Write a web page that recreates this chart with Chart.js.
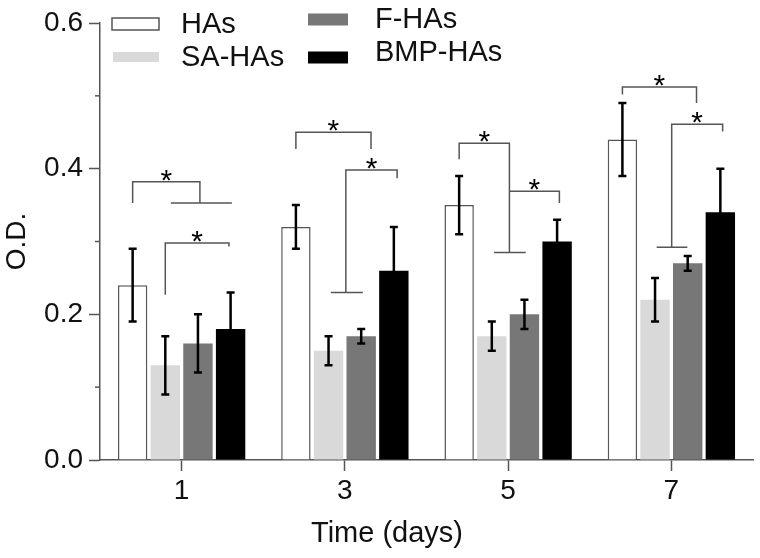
<!DOCTYPE html>
<html>
<head>
<meta charset="utf-8">
<script src="https://cdn.jsdelivr.net/npm/chart.js@4.4.1/dist/chart.umd.min.js"></script>
<style>
  html, body { margin: 0; padding: 0; background: #fff; }
  #wrap { width: 760px; height: 558px; }
</style>
</head>
<body>
<div id="wrap"><canvas id="odChart" width="760" height="558"></canvas></div>
<script>
const days = ['1', '3', '5', '7'];
const seriesNames = ['HAs', 'SA-HAs', 'F-HAs', 'BMP-HAs'];
const hasValues = [0.24, 0.32, 0.35, 0.44];
const saValues = [0.13, 0.15, 0.17, 0.22];
const fValues = [0.16, 0.17, 0.20, 0.27];
const bmpValues = [0.18, 0.26, 0.30, 0.34];
const hasErr = [0.05, 0.03, 0.04, 0.05];
const saErr = [0.04, 0.02, 0.02, 0.03];
const fErr = [0.04, 0.01, 0.02, 0.01];
const bmpErr = [0.05, 0.06, 0.03, 0.06];
const yLabelTicks = [0, 0.2, 0.4, 0.6];

// significance brackets, in bar slots (0 = HAs ... 3 = BMP-HAs) and y values
// [day, left slot, right slot, top, left leg end, right leg end, base from, base to, base y]
const brackets = [
    [0, 0, 2.06, 0.382, 0.353, 0.353, 1.17, 3.04, 0.353],
    [0, 1.0, 2.95, 0.298, 0.227, 0.293, null, null, null],
    [1, 0, 2.3, 0.45, 0.427, 0.427, null, null, null],
    [1, 1.53, 3.1, 0.398, 0.23, 0.387, 1.07, 2.05, 0.23],
    [2, 0, 1.54, 0.435, 0.413, 0.285, 1.07, 2.04, 0.285],
    [2, 1.54, 3.07, 0.369, 0.369, 0.353, null, null, null],
    [3, 0, 2.27, 0.512, 0.502, 0.49, null, null, null],
    [3, 1.51, 3.07, 0.461, 0.292, 0.451, 1.05, 1.99, 0.292]
];

const fillColors = ['#ffffff', '#d9d9d9', '#777777', '#000000'];
const axisColor = '#555555';
const fontFamily = '"Liberation Sans", Arial, Helvetica, sans-serif';

function isMajor(v) {
    return yLabelTicks.some(t => Math.abs(t - v) < 1e-6);
}

function slotX(chart, d, s) {
    const a = chart.getDatasetMeta(0).data[d];
    const b = chart.getDatasetMeta(1).data[d];
    return a.x + s * (b.x - a.x);
}

const errorBars = {
    id: 'errorBars',
    afterDatasetsDraw(chart) {
        const ctx = chart.ctx;
        const y = chart.scales.y;
        ctx.save();
        ctx.strokeStyle = '#000';
        ctx.lineWidth = 2.5;
        chart.data.datasets.forEach((ds, i) => {
            chart.getDatasetMeta(i).data.forEach((bar, j) => {
                const top = y.getPixelForValue(ds.data[j] + ds.errors[j]);
                const bot = y.getPixelForValue(ds.data[j] - ds.errors[j]);
                ctx.beginPath();
                ctx.moveTo(bar.x, top); ctx.lineTo(bar.x, bot);
                ctx.moveTo(bar.x - 4, top); ctx.lineTo(bar.x + 4, top);
                ctx.moveTo(bar.x - 4, bot); ctx.lineTo(bar.x + 4, bot);
                ctx.stroke();
            });
        });

        // brackets and stars
        brackets.forEach(b => {
            const [d, s1, s2, top, l1, l2, bf, bt, by] = b;
            const x1 = slotX(chart, d, s1), x2 = slotX(chart, d, s2);
            const yt = y.getPixelForValue(top);
            ctx.strokeStyle = axisColor;
            ctx.lineWidth = 1.5;
            ctx.beginPath();
            ctx.moveTo(x1, y.getPixelForValue(l1));
            ctx.lineTo(x1, yt);
            ctx.lineTo(x2, yt);
            ctx.lineTo(x2, y.getPixelForValue(l2));
            if (bf !== null) {
                const yb = y.getPixelForValue(by);
                ctx.moveTo(slotX(chart, d, bf), yb);
                ctx.lineTo(slotX(chart, d, bt), yb);
            }
            ctx.stroke();
            ctx.fillStyle = '#000';
            ctx.font = '30px ' + fontFamily;
            ctx.textAlign = 'center';
            ctx.textBaseline = 'alphabetic';
            ctx.fillText('*', (x1 + x2) / 2, yt - 9 + 0.57 * 30);
        });
        ctx.restore();
    }
};

const extras = {
    id: 'extras',
    afterDraw(chart) {
        const ctx = chart.ctx;
        const y = chart.scales.y;
        const x = chart.scales.x;
        ctx.save();

        // minor y ticks
        ctx.strokeStyle = axisColor;
        ctx.lineWidth = 1.5;
        y.ticks.forEach(t => {
            if (!isMajor(t.value)) {
                const py = y.getPixelForValue(t.value);
                ctx.beginPath();
                ctx.moveTo(x.left - 5, py);
                ctx.lineTo(x.left, py);
                ctx.stroke();
            }
        });

        // legend, two columns
        const items = [
            {bx: 112, bw: 47, by: 24, bh: 12, tx: 181, ty: 25},
            {bx: 113, bw: 46, by: 57, bh: 10, tx: 181, ty: 58},
            {bx: 308, bw: 40, by: 19.5, bh: 12, tx: 375, ty: 19.5},
            {bx: 308, bw: 40, by: 57.5, bh: 12, tx: 375, ty: 52.5}
        ];
        chart.data.datasets.forEach((ds, i) => {
            const it = items[i];
            ctx.fillStyle = ds.backgroundColor;
            ctx.fillRect(it.bx, it.by - it.bh / 2, it.bw, it.bh);
            if (ds.borderWidth) {
                ctx.strokeStyle = ds.borderColor;
                ctx.lineWidth = 1.5;
                ctx.strokeRect(it.bx, it.by - it.bh / 2, it.bw, it.bh);
            }
            ctx.fillStyle = '#111';
            ctx.font = '29px ' + fontFamily;
            ctx.textAlign = 'left';
            ctx.textBaseline = 'middle';
            ctx.fillText(ds.label, it.tx, it.ty);
        });

        // x axis title
        ctx.fillStyle = '#111';
        ctx.font = '29px ' + fontFamily;
        ctx.textAlign = 'center';
        ctx.textBaseline = 'middle';
        ctx.fillText('Time (days)', 387, 534);
        ctx.restore();
    }
};

const allValues = [hasValues, saValues, fValues, bmpValues];
const allErrors = [hasErr, saErr, fErr, bmpErr];

const ctx = document.getElementById('odChart').getContext('2d');
const odChart = new Chart(ctx, {
    type: 'bar',
    data: {
        labels: days,
        datasets: seriesNames.map((name, i) => ({
            label: name,
            data: allValues[i],
            errors: allErrors[i],
            backgroundColor: fillColors[i],
            borderColor: axisColor,
            borderWidth: i === 0 ? 1.5 : 0,
            categoryPercentage: 0.8,
            barPercentage: 0.9
        }))
    },
    options: {
        responsive: false,
        animation: false,
        devicePixelRatio: 1,
        layout: { padding: { top: 23, right: 7, left: 0, bottom: 0 } },
        plugins: {
            legend: { display: false },
            tooltip: { enabled: false }
        },
        scales: {
            x: {
                grid: {
                    offset: false,
                    drawOnChartArea: false,
                    tickLength: 11,
                    tickColor: axisColor,
                    tickWidth: 1.5
                },
                border: { color: axisColor, width: 1.5 },
                ticks: {
                    color: '#111',
                    padding: 3,
                    font: { family: fontFamily, size: 28 }
                },
                afterFit: scale => { scale.height = 98; }
            },
            y: {
                min: 0,
                max: 0.6,
                ticks: {
                    stepSize: 0.1,
                    color: '#111',
                    padding: 6,
                    font: { family: fontFamily, size: 28 },
                    callback: v => isMajor(v) ? v.toFixed(1) : ''
                },
                grid: {
                    drawOnChartArea: false,
                    tickLength: 11,
                    tickWidth: 1.5,
                    tickColor: c => isMajor(c.tick.value) ? axisColor : 'rgba(0,0,0,0)'
                },
                border: { color: axisColor, width: 1.5 },
                title: {
                    display: true,
                    text: 'O.D.',
                    color: '#111',
                    padding: { top: 0, bottom: 0 },
                    font: { family: fontFamily, size: 28 }
                },
                afterFit: scale => { scale.width = 100; }
            }
        }
    },
    plugins: [errorBars, extras]
});
</script>
</body>
</html>
